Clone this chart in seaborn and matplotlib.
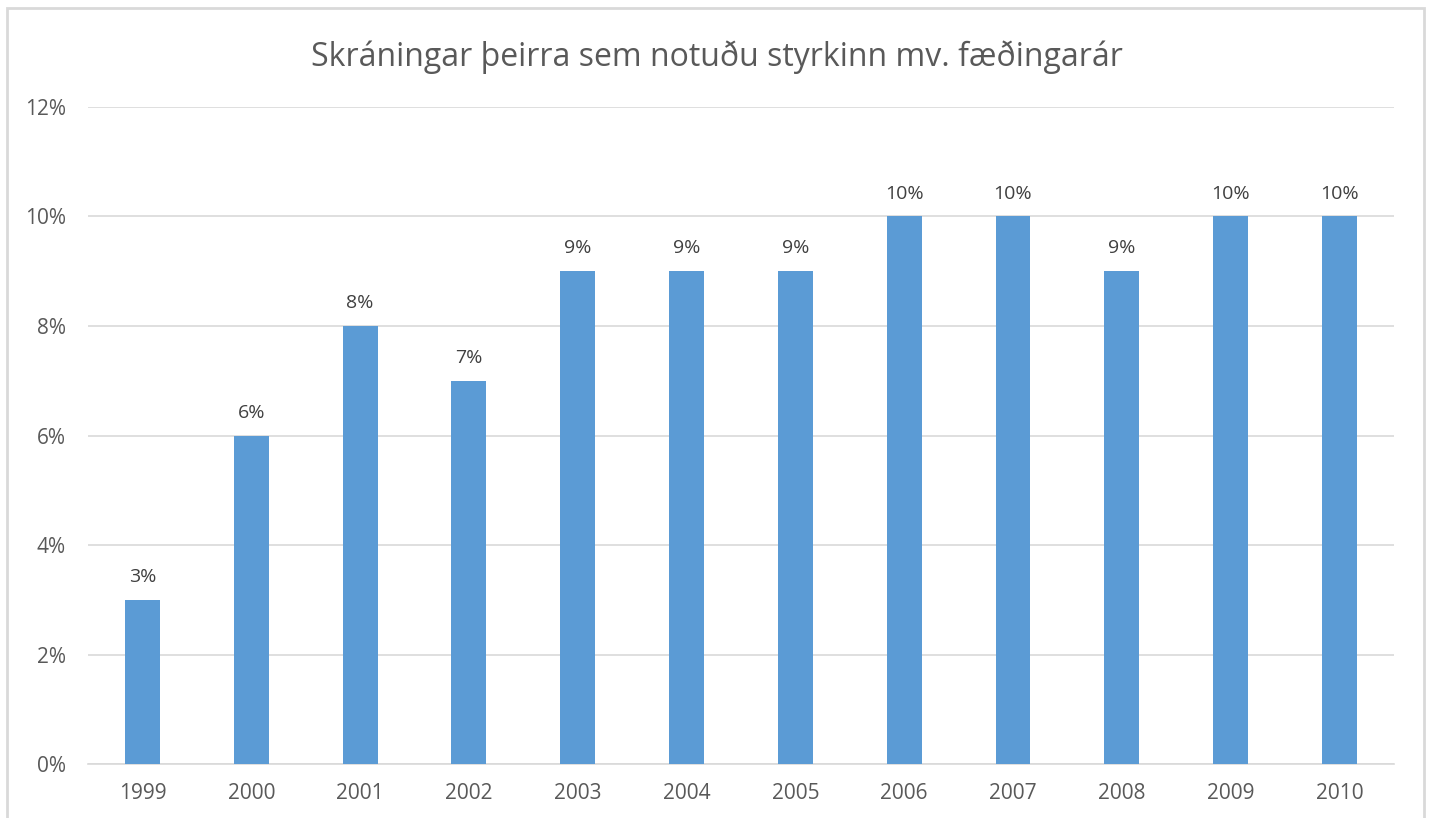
import matplotlib
matplotlib.use("Agg")
import matplotlib.pyplot as plt
import matplotlib.patches as mpatches
import seaborn as sns
import pandas as pd

years = ["1999", "2000", "2001", "2002", "2003", "2004", "2005",
         "2006", "2007", "2008", "2009", "2010"]
shares = [3, 6, 8, 7, 9, 9, 9, 10, 10, 9, 10, 10]
yticks = [0, 2, 4, 6, 8, 10, 12]

df = pd.DataFrame({"year": years, "share": shares})

sns.set_style("white")
plt.rcParams["font.family"] = ["Open Sans", "DejaVu Sans"]

fig = plt.figure(figsize=(14.34, 8.18), dpi=100)
ax = fig.add_axes([0.0614, 0.066, 0.9106, 0.8032])

sns.barplot(data=df, x="year", y="share", color="#5b9bd5", saturation=1,
            width=0.32, linewidth=0, ax=ax, zorder=3)

ax.set_ylim(0, 12)
ax.set_xlim(-0.5, len(years) - 0.5)
ax.set_yticks(yticks)
ax.set_yticklabels([f"{t}%" for t in yticks])
ax.yaxis.grid(True, color="#d9d9d9", linewidth=1.2, zorder=0)
ax.set_axisbelow(True)
for s in ["top", "right", "left"]:
    ax.spines[s].set_visible(False)
ax.spines["bottom"].set_color("#d9d9d9")
ax.spines["bottom"].set_linewidth(1.2)
ax.tick_params(axis="both", length=0, labelsize=15, labelcolor="#595959")
ax.tick_params(axis="x", pad=14)
ax.tick_params(axis="y", pad=16)
ax.set_xlabel("")
ax.set_ylabel("")

for i, v in enumerate(shares):
    ax.annotate(f"{v}%", (i, v), xytext=(0, 10), textcoords="offset points",
                ha="center", va="bottom", fontsize=14, color="#404040")

fig.text(0.5, 0.930, "Skráningar þeirra sem notuðu styrkinn mv. fæðingarár",
         ha="center", va="center", fontsize=23, color="#595959")

# outer chart frame
fig.patches.append(mpatches.Rectangle((7 / 1434, -0.05), 1417 / 1434, 1.05 - 8 / 818,
                                      transform=fig.transFigure, fill=False,
                                      edgecolor="#d9d9d9", linewidth=2))

fig.savefig("out.png", dpi=100, facecolor="white")
